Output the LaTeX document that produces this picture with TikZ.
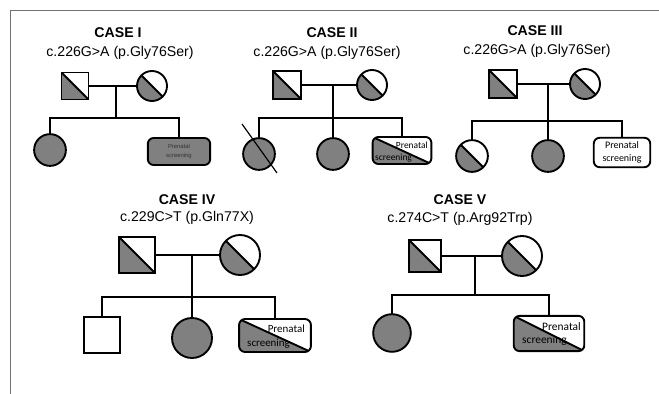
\documentclass[tikz,border=0pt]{standalone}
\usepackage{fontspec}
\setmainfont{Liberation Sans}
\newfontfamily\calibri{Carlito}
\usepackage{xcolor}
\usepackage{tikz}
\usetikzlibrary{positioning}
\definecolor{affgray}{gray}{0.5}
\definecolor{framegray}{gray}{0.45}

\tikzset{
  ped/.style={draw, line width=1.6pt, inner sep=0pt, outer sep=0pt},
  male/.style={ped, rectangle, minimum size=#1},
  female/.style={ped, circle, minimum size=#1},
  aff/.style={fill=affgray},
  half/.style={path picture={
      \fill[affgray] (path picture bounding box.north west) -- (path picture bounding box.south east)
        -- (path picture bounding box.south west) -- cycle;
      \draw[line width=1.6pt] (path picture bounding box.north west) -- (path picture bounding box.south east);}},
  prenatal/.style 2 args={ped, rectangle, rounded corners=5pt, minimum width=#1, minimum height=#2, align=center},
  line/.style={line width=1.6pt},
  casetitle/.style={font=\bfseries\fontsize{12}{14}\selectfont},
  variant/.style={font=\fontsize{12}{14}\selectfont},
  pretext/.style={font=\calibri\fontsize{#1}{#1}\selectfont, inner sep=0pt},
}

\begin{document}
\begin{tikzpicture}[x=0.85pt, y=-0.85pt]
    \useasboundingbox (0,0) rectangle (659,394);
    \draw[framegray, line width=0.8pt] (10,394) -- (10,10) -- (659,10);

    % CASE I
    \node[casetitle] (t1) at (118,33) {CASE I};
    \node[variant] (v1) at (120,53) {c.226G>A (p.Gly76Ser)};
    \node[male=23pt, half] (f1) at (75,86) {};
    \node[female=25.5pt, half] (m1) at (152,86) {};
    \node[female=27pt, aff] (c1a) at (50,150) {};
    \node[prenatal={53pt}{23pt}, aff, text=black!80, font=\fontsize{5}{7.5}\selectfont] (c1b) at (179,151.5) {Prenatal\\screening};
    \coordinate (d1) at (116,86);
    \coordinate (s1) at (116,118);
    \draw[line] (f1.east) -- (m1.west);
    \draw[line] (d1) -- (s1);
    \draw[line] (c1a.north) -- (c1a |- s1) -- (c1b |- s1) -- (c1b.north);

    % CASE II
    \node[casetitle] (t2) at (332,33) {CASE II};
    \node[variant] (v2) at (327,53) {c.226G>A (p.Gly76Ser)};
    \node[male=23.5pt, half] (f2) at (287,85) {};
    \node[female=25.5pt, half] (m2) at (372,85) {};
    \node[female=27pt, aff] (c2a) at (259,154) {};
    \node[female=27pt, aff] (c2b) at (333,154) {};
    \node[prenatal={50pt}{23pt}, half] (c2c) at (402,150.5) {};
    \node[pretext=8, anchor=base east] (c2c-up) at (428,148) {Prenatal};
    \node[pretext=8, anchor=base west] (c2c-lo) at (375,160) {screening};
    \coordinate (d2) at (333,85);
    \coordinate (s2) at (333,118);
    \draw[line] (f2.east) -- (m2.west);
    \draw[line] (d2) -- (s2);
    \draw[line] (c2a.north) -- (c2a |- s2) -- (c2c |- s2) -- (c2c.north);
    \draw[line] (c2b.north) -- (c2b |- s2);
    \draw[line width=1pt] (c2a.center) ++(-17,-30) -- ++(35,49);

    % CASE III
    \node[casetitle] (t3) at (535,31) {CASE III};
    \node[variant] (v3) at (537,51) {c.226G>A (p.Gly76Ser)};
    \node[male=24pt, half] (f3) at (503,84) {};
    \node[female=25.5pt, half] (m3) at (585,84) {};
    \node[female=27pt, half] (c3a) at (472,156) {};
    \node[female=27pt, aff] (c3b) at (548,156) {};
    \node[prenatal={48pt}{25pt}, font=\calibri\fontsize{8.5}{11}\selectfont] (c3c) at (622,152.5) {Prenatal\\screening};
    \coordinate (d3) at (548,84);
    \coordinate (s3) at (548,121);
    \draw[line] (f3.east) -- (m3.west);
    \draw[line] (d3) -- (s3);
    \draw[line] (c3a.north) -- (c3a |- s3) -- (c3c |- s3) -- (c3c.north);
    \draw[line] (c3b.north) -- (c3b |- s3);

    % CASE IV
    \node[casetitle] (t4) at (187,200) {CASE IV};
    \node[variant] (v4) at (187,218) {c.229C>T (p.Gln77X)};
    \node[male=30pt, half] (f4) at (137,255) {};
    \node[female=34pt, half] (m4) at (240,255) {};
    \node[male=31pt] (c4a) at (102,335) {};
    \node[female=34pt, aff] (c4b) at (192,338) {};
    \node[prenatal={61pt}{28pt}, half] (c4c) at (275,335.5) {};
    \node[pretext=9.3, anchor=base east] (c4c-up) at (305,332) {Prenatal};
    \node[pretext=9.3, anchor=base west] (c4c-lo) at (247,346) {screening};
    \coordinate (d4) at (192,255);
    \coordinate (s4) at (192,297);
    \draw[line] (f4.east) -- (m4.west);
    \draw[line] (d4) -- (s4);
    \draw[line] (c4a.north) -- (c4a |- s4) -- (c4c |- s4) -- (c4c.north);
    \draw[line] (c4b.north) -- (c4b |- s4);

    % CASE V
    \node[casetitle] (t5) at (460,200) {CASE V};
    \node[variant] (v5) at (460,219) {c.274C>T (p.Arg92Trp)};
    \node[male=27pt, half] (f5) at (425,256) {};
    \node[female=34pt, half] (m5) at (522,256) {};
    \node[female=32pt, aff] (c5a) at (392,333) {};
    \node[prenatal={60pt}{30pt}, half] (c5b) at (549,333.5) {};
    \node[pretext=9.7, anchor=base east] (c5b-up) at (581,330) {Prenatal};
    \node[pretext=9.7, anchor=base west] (c5b-lo) at (522,343) {screening};
    \coordinate (d5) at (475,256);
    \coordinate (s5) at (475,295);
    \draw[line] (f5.east) -- (m5.west);
    \draw[line] (d5) -- (s5);
    \draw[line] (c5a.north) -- (c5a |- s5) -- (c5b |- s5) -- (c5b.north);
\end{tikzpicture}
\end{document}
